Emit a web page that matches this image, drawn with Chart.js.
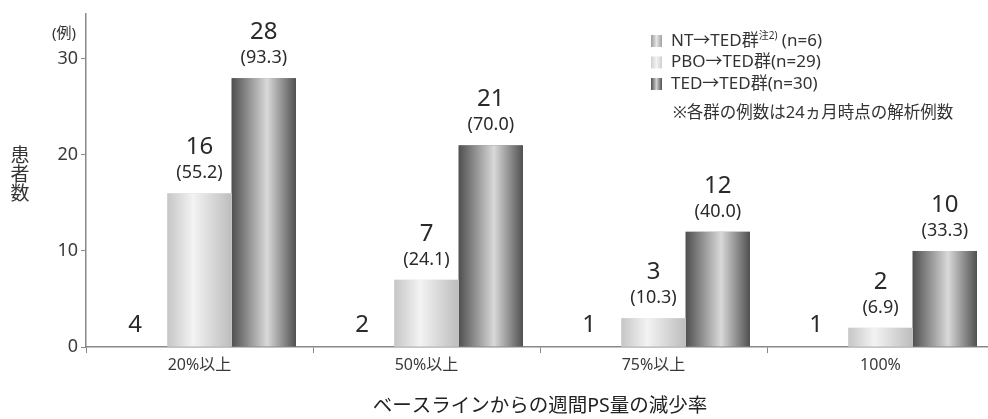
<!DOCTYPE html>
<html>
<head>
<meta charset="utf-8">
<script src="https://cdn.jsdelivr.net/npm/chart.js@4/dist/chart.umd.min.js"></script>
<style>
    html, body { margin: 0; padding: 0; background: #fff; overflow: hidden; }
    #wrap { width: 1000px; height: 419px; }
</style>
</head>
<body>
<div id="wrap"><canvas id="chart" width="1000" height="419"></canvas></div>
<script>
    var FONT = '"Noto Sans", "Noto Sans CJK JP", sans-serif';

    // data
    var categories = ['20%以上', '50%以上', '75%以上', '100%'];
    var ntCounts = [4, 2, 1, 1];
    var pboCounts = [16, 7, 3, 2];
    var tedCounts = [28, 21, 12, 10];
    var pboPct = ['55.2', '24.1', '10.3', '6.9'];
    var tedPct = ['93.3', '70.0', '40.0', '33.3'];
    var yTicks = [0, 10, 20, 30];

    // bar shading (cylinder look), per dataset index
    var barShades = {
        1: [[0, '#c6c6c6'], [0.4, '#f3f3f3'], [1, '#bdbdbd']],
        2: [[0, '#4f4f4f'], [0.55, '#d9d9d9'], [1, '#505050']]
    };
    var legendShades = [
        [[0, '#9a9a9a'], [0.5, '#e6e6e6'], [1, '#a0a0a0']],
        [[0, '#d0d0d0'], [0.5, '#f3f3f3'], [1, '#cfcfcf']],
        [[0, '#4f4f4f'], [0.5, '#d0d0d0'], [1, '#505050']]
    ];

    function makeGrad(ctx, x0, x1, stops) {
        var g = ctx.createLinearGradient(x0, 0, x1, 0);
        stops.forEach(function (s) { g.addColorStop(s[0], s[1]); });
        return g;
    }

    var shadePlugin = {
        id: 'shade',
        afterDatasetDraw: function (chart, args) {
            var stops = barShades[args.index];
            if (!stops) return;
            var ctx = chart.ctx;
            ctx.save();
            args.meta.data.forEach(function (el) {
                var p = el.getProps(['x', 'y', 'base', 'width'], true);
                var l = p.x - p.width / 2;
                ctx.fillStyle = makeGrad(ctx, l, l + p.width, stops);
                ctx.fillRect(l, p.y, p.width, p.base - p.y);
            });
            ctx.restore();
        }
    };

    var labelPlugin = {
        id: 'labels',
        afterDatasetsDraw: function (chart) {
            var ctx = chart.ctx;
            ctx.save();
            ctx.textAlign = 'center';
            ctx.textBaseline = 'middle';
            ctx.fillStyle = '#2a2a2a';

            // NT group: count only, at the baseline
            chart.getDatasetMeta(0).data.forEach(function (el, i) {
                var p = el.getProps(['x', 'base'], true);
                ctx.font = '24px ' + FONT;
                ctx.fillText(String(ntCounts[i]), p.x, p.base - 21);
            });

            [[1, pboCounts, pboPct], [2, tedCounts, tedPct]].forEach(function (set) {
                chart.getDatasetMeta(set[0]).data.forEach(function (el, i) {
                    var p = el.getProps(['x', 'y'], true);
                    ctx.font = '24px ' + FONT;
                    ctx.fillText(String(set[1][i]), p.x, p.y - 46);
                    ctx.font = '18px ' + FONT;
                    ctx.fillText('(' + set[2][i] + ')', p.x, p.y - 20);
                });
            });
            ctx.restore();
        }
    };

    var decorPlugin = {
        id: 'decor',
        afterDraw: function (chart) {
            var ctx = chart.ctx;
            ctx.save();
            ctx.fillStyle = '#333';
            ctx.textBaseline = 'middle';

            // y axis title, stacked vertically
            ctx.textAlign = 'center';
            ctx.font = '19px ' + FONT;
            ['患', '者', '数'].forEach(function (ch, i) {
                ctx.fillText(ch, 20, 157 + i * 19);
            });
            ctx.font = '15px ' + FONT;
            ctx.fillText('(例)', 64, 34);

            // legend
            var names = ['NT→TED群', 'PBO→TED群', 'TED→TED群'];
            var tails = [' (n=6)', '(n=29)', '(n=30)'];
            var lx = 651, ly = 41;
            ctx.textAlign = 'left';
            names.forEach(function (name, i) {
                var y = ly + i * 21.5;
                ctx.fillStyle = makeGrad(ctx, lx, lx + 11, legendShades[i]);
                ctx.fillRect(lx, y - 6, 11, 12);
                ctx.fillStyle = '#333';
                ctx.font = '17px ' + FONT;
                ctx.fillText(name, lx + 20, y);
                var w = ctx.measureText(name).width;
                if (i === 0) {
                    ctx.font = '10px ' + FONT;
                    ctx.fillText('注2)', lx + 20 + w, y - 5);
                    w += ctx.measureText('注2)').width;
                    ctx.font = '17px ' + FONT;
                }
                ctx.fillText(tails[i], lx + 20 + w, y);
            });
            ctx.font = '16.5px ' + FONT;
            ctx.fillText('※各群の例数は24ヵ月時点の解析例数', lx + 22, 113);
            ctx.restore();
        }
    };

    new Chart(document.getElementById('chart'), {
        type: 'bar',
        data: {
            labels: categories,
            datasets: [
                { label: 'NT→TED群 (n=6)', data: ntCounts, backgroundColor: 'rgba(0,0,0,0)' },
                { label: 'PBO→TED群(n=29)', data: pboCounts, backgroundColor: '#e0e0e0' },
                { label: 'TED→TED群(n=30)', data: tedCounts, backgroundColor: '#888' }
            ]
        },
        options: {
            responsive: false,
            animation: false,
            events: [],
            layout: { padding: { top: 0, right: 6, left: 0, bottom: 0 } },
            datasets: { bar: { categoryPercentage: 0.85, barPercentage: 1.0 } },
            plugins: { legend: { display: false }, tooltip: { enabled: false } },
            scales: {
                x: {
                    grid: { drawOnChartArea: false, tickLength: 6, color: '#888', offset: true },
                    border: { color: '#888', width: 1.5 },
                    ticks: { font: { size: 16, family: FONT }, color: '#3a3a3a', padding: 3 },
                    title: {
                        display: true, text: 'ベースラインからの週間PS量の減少率',
                        font: { size: 19.5, family: FONT }, color: '#222',
                        padding: { top: 0, bottom: 1 }
                    },
                    afterFit: function (scale) { scale.height = 72; }
                },
                y: {
                    min: 0,
                    max: 34.7,
                    grid: { drawOnChartArea: false, tickLength: 5, color: '#888' },
                    border: { color: '#888', width: 1.5 },
                    ticks: { stepSize: 10, font: { size: 18, family: FONT }, color: '#3a3a3a', padding: 3 },
                    afterBuildTicks: function (scale) {
                        scale.ticks = yTicks.map(function (v) { return { value: v }; });
                    },
                    afterFit: function (scale) { scale.width = 86; }
                }
            }
        },
        plugins: [shadePlugin, labelPlugin, decorPlugin]
    });
</script>
</body>
</html>
